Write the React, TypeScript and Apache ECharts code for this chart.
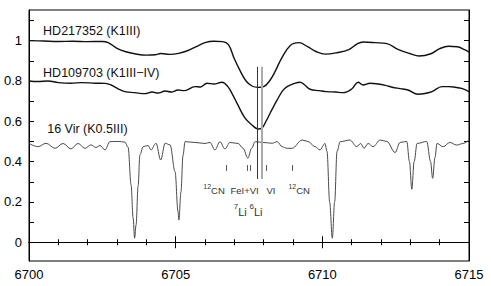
import React, { useEffect, useRef } from "react";
import * as echarts from "echarts";

// HD217352 (K1III)
const wlTop = [6700.0, 6700.5, 6701.0, 6701.5, 6702.0, 6702.5, 6702.7, 6703.0, 6703.3, 6703.6, 6704.0, 6704.3, 6704.5, 6704.8, 6705.1, 6705.4, 6705.7, 6706.0, 6706.3, 6706.6, 6706.8, 6707.0, 6707.2, 6707.4, 6707.6, 6707.8, 6708.0, 6708.2, 6708.4, 6708.6, 6708.9, 6709.2, 6709.5, 6709.8, 6710.1, 6710.5, 6710.9, 6711.2, 6711.4, 6711.8, 6712.2, 6712.6, 6713.0, 6713.3, 6713.7, 6714.0, 6714.3, 6714.6, 6714.85, 6715.0];
const fluxTop = [1.0, 0.998, 0.996, 0.997, 0.995, 0.996, 0.99, 0.962, 0.945, 0.935, 0.928, 0.93, 0.936, 0.932, 0.937, 0.95, 0.97, 0.99, 0.997, 0.995, 0.98, 0.91, 0.85, 0.8, 0.775, 0.768, 0.772, 0.8, 0.85, 0.91, 0.975, 0.99, 0.97, 0.945, 0.933, 0.94, 0.955, 0.985, 0.993, 0.99, 0.985, 0.955, 0.935, 0.924, 0.935, 0.96, 0.972, 0.97, 0.955, 0.943];

// HD109703 (K1III-IV)
const wlMid = [6700.0, 6700.3, 6700.65, 6701.0, 6701.43, 6701.8, 6702.25, 6702.6, 6702.8, 6703.05, 6703.27, 6703.6, 6703.95, 6704.2, 6704.4, 6704.64, 6704.85, 6705.08, 6705.3, 6705.66, 6705.85, 6706.07, 6706.3, 6706.58, 6706.78, 6706.95, 6707.09, 6707.36, 6707.6, 6707.81, 6707.94, 6708.08, 6708.22, 6708.46, 6708.65, 6708.8, 6709.0, 6709.24, 6709.4, 6709.58, 6709.9, 6710.16, 6710.45, 6710.71, 6711.0, 6711.22, 6711.39, 6711.63, 6711.9, 6712.15, 6712.38, 6712.65, 6712.92, 6713.26, 6713.5, 6713.74, 6714.08, 6714.3, 6714.52, 6714.75, 6715.0];
const fluxMid = [0.8, 0.797, 0.8, 0.792, 0.789, 0.792, 0.789, 0.788, 0.78, 0.76, 0.747, 0.742, 0.737, 0.745, 0.74, 0.75, 0.745, 0.755, 0.752, 0.772, 0.77, 0.789, 0.785, 0.794, 0.772, 0.73, 0.69, 0.617, 0.582, 0.562, 0.566, 0.6, 0.64, 0.706, 0.752, 0.772, 0.785, 0.794, 0.78, 0.759, 0.752, 0.747, 0.745, 0.742, 0.76, 0.794, 0.78, 0.789, 0.785, 0.778, 0.769, 0.762, 0.755, 0.734, 0.738, 0.747, 0.772, 0.772, 0.769, 0.763, 0.747];

// 16 Vir (K0.5III)
const wlVir = [6700.0, 6700.31, 6700.58, 6700.89, 6701.16, 6701.43, 6701.67, 6701.91, 6702.11, 6702.28, 6702.42, 6702.59, 6702.76, 6703.03, 6703.27, 6703.38, 6703.48, 6703.55, 6703.6, 6703.65, 6703.72, 6703.78, 6703.89, 6704.06, 6704.16, 6704.33, 6704.49, 6704.64, 6704.81, 6704.98, 6705.08, 6705.11, 6705.18, 6705.25, 6705.32, 6705.66, 6706.0, 6706.17, 6706.34, 6706.51, 6706.68, 6706.85, 6707.13, 6707.3, 6707.46, 6707.59, 6707.71, 6707.98, 6708.29, 6708.46, 6708.63, 6708.8, 6708.97, 6709.31, 6709.51, 6709.75, 6709.92, 6710.09, 6710.16, 6710.25, 6710.34, 6710.42, 6710.5, 6710.61, 6710.94, 6711.17, 6711.31, 6711.42, 6711.56, 6711.73, 6711.97, 6712.2, 6712.48, 6712.65, 6712.88, 6712.97, 6713.05, 6713.13, 6713.23, 6713.56, 6713.69, 6713.76, 6713.84, 6713.91, 6714.12, 6714.35, 6714.58, 6714.8, 6715.0];
const fluxVir = [0.49, 0.474, 0.491, 0.466, 0.49, 0.463, 0.49, 0.466, 0.483, 0.47, 0.48, 0.458, 0.499, 0.5, 0.497, 0.47, 0.284, 0.12, 0.02, 0.086, 0.28, 0.433, 0.474, 0.48, 0.458, 0.491, 0.408, 0.491, 0.483, 0.35, 0.152, 0.11, 0.25, 0.43, 0.499, 0.495, 0.49, 0.495, 0.458, 0.499, 0.463, 0.495, 0.49, 0.466, 0.417, 0.466, 0.499, 0.495, 0.491, 0.499, 0.474, 0.466, 0.466, 0.507, 0.5, 0.474, 0.458, 0.49, 0.45, 0.2, 0.02, 0.2, 0.45, 0.499, 0.507, 0.474, 0.49, 0.466, 0.49, 0.474, 0.507, 0.5, 0.445, 0.495, 0.5, 0.4, 0.263, 0.4, 0.49, 0.5, 0.4, 0.317, 0.42, 0.49, 0.474, 0.495, 0.482, 0.49, 0.507];

// axes
const xMin = 6700;
const xMax = 6715;
const yMin = -0.093;
const yMax = 1.152;
const yLabelValues = [0, 0.2, 0.4, 0.6, 0.8, 1];
const yLabelTexts = ["0", "0.2", "0.4", "0.6", "0.8", "1"];
const yTickValues = [0, 0.1, 0.2, 0.3, 0.4, 0.5, 0.6, 0.7, 0.8, 0.9, 1.0, 1.1];

// Li lines (7Li black, 6Li gray)
const liLineWl = [6707.79, 6707.94];
const liLineTop = 0.87;
const liLineBottom = 0.314;

// small identification marks
const markWl = [6706.74, 6707.43, 6707.54, 6708.1, 6708.96];
const markTop = 0.383;
const markBottom = 0.354;

// annotation labels [text, wavelength, flux]
const starLabels: [string, number, number][] = [
  ["HD217352 (K1III)", 6700.48, 1.048],
  ["HD109703 (K1III\u2212IV)", 6700.48, 0.841],
  ["16 Vir (K0.5III)", 6700.62, 0.562],
];
const lineLabels: [string, number, number][] = [
  ["{s|12}{n|CN}", 6706.31, 0.264],
  ["{n|FeI+VI}", 6707.35, 0.264],
  ["{n|VI}", 6708.25, 0.264],
  ["{s|12}{n|CN}", 6709.21, 0.264],
];
const isoLabels: [string, number, number][] = [
  ["{s|7}{L|Li}", 6707.2, 0.16],
  ["{s|6}{L|Li}", 6707.74, 0.16],
];

const FONT = "'Liberation Sans', Arial, Helvetica, sans-serif";

const zip = (a: number[], b: number[]) => a.map((v, i) => [v, b[i]]);

export default function App() {
  const ref = useRef<HTMLDivElement>(null);
  useEffect(() => {
    document.body.style.margin = "0";
    const chart = echarts.init(ref.current!, null, { renderer: "svg" });
    const axisLine = { show: true, lineStyle: { color: "#000", width: 1 } };
    const xCommon = {
      type: "value",
      min: xMin,
      max: xMax,
      interval: 5,
      splitLine: { show: false },
      axisLine,
      axisTick: { show: true, inside: true, length: 6, lineStyle: { color: "#000" } },
      minorTick: { show: true, splitNumber: 5, length: 3, lineStyle: { color: "#000" } },
    };
    const yCommon = {
      type: "value",
      min: yMin,
      max: yMax,
      splitLine: { show: false },
      axisLine,
      axisTick: {
        show: true,
        inside: true,
        length: 5,
        customValues: yTickValues,
        lineStyle: { color: "#000" },
      },
    };
    chart.setOption({
      animation: false,
      grid: {
        left: 29,
        right: 22,
        top: 10,
        bottom: 25,
        containLabel: false,
        show: true,
        borderColor: "#000",
        borderWidth: 1,
        backgroundColor: "transparent",
      },
      xAxis: [
        {
          ...xCommon,
          position: "bottom",
          axisLabel: {
            color: "#000",
            fontSize: 13,
            fontFamily: FONT,
            margin: 7,
            formatter: (v: number) => String(Math.round(v)),
          },
        },
        { ...xCommon, position: "top", axisLabel: { show: false } },
      ],
      yAxis: [
        {
          ...yCommon,
          position: "left",
          axisLabel: {
            color: "#000",
            fontSize: 13,
            fontFamily: FONT,
            margin: 7,
            customValues: yLabelValues,
            formatter: (v: number) => {
              const i = yLabelValues.findIndex((u) => Math.abs(u - v) < 1e-6);
              return i >= 0 ? yLabelTexts[i] : "";
            },
          },
        },
        { ...yCommon, position: "right", axisLabel: { show: false } },
      ],
      series: [
        {
          type: "line",
          data: zip(wlVir, fluxVir),
          showSymbol: false,
          smooth: 0.35,
          smoothMonotone: "x",
          lineStyle: { color: "#4a4a4a", width: 1 },
          z: 2,
        },
        {
          type: "line",
          data: zip(wlMid, fluxMid),
          showSymbol: false,
          smooth: 0.4,
          lineStyle: { color: "#111", width: 1.4 },
          z: 3,
        },
        {
          type: "line",
          data: zip(wlTop, fluxTop),
          showSymbol: false,
          smooth: 0.4,
          lineStyle: { color: "#111", width: 1.4 },
          z: 3,
          markLine: {
            silent: true,
            symbol: ["none", "none"],
            label: { show: false },
            animation: false,
            data: [
              ...markWl.map((w) => [
                { coord: [w, markTop], lineStyle: { color: "#555", width: 1, type: "solid" } },
                { coord: [w, markBottom] },
              ]),
              [
                { coord: [liLineWl[1], liLineTop], lineStyle: { color: "#aaaaaa", width: 2, type: "solid" } },
                { coord: [liLineWl[1], liLineBottom] },
              ],
              [
                { coord: [liLineWl[0], liLineTop], lineStyle: { color: "#333", width: 1, type: "solid" } },
                { coord: [liLineWl[0], liLineBottom] },
              ],
            ],
          },
        },
      ],
    });

    const px = (w: number, f: number) =>
      chart.convertToPixel({ xAxisIndex: 0, yAxisIndex: 0 }, [w, f]) as number[];
    const graphics: any[] = [];
    starLabels.forEach(([t, w, f]) => {
      const p = px(w, f);
      graphics.push({
        type: "text",
        x: p[0],
        y: p[1],
        style: {
          text: t,
          fill: "#111",
          font: `12.5px ${FONT}`,
          textAlign: "left",
          textVerticalAlign: "middle",
        },
      });
    });
    lineLabels.forEach(([t, w, f]) => {
      const p = px(w, f);
      graphics.push({
        type: "text",
        x: p[0],
        y: p[1],
        style: {
          text: t,
          fill: "#333",
          fontFamily: FONT,
          align: "center",
          verticalAlign: "middle",
          rich: {
            s: { fontSize: 7, lineHeight: 13, verticalAlign: "top", fontFamily: FONT, fill: "#333" },
            n: { fontSize: 9.5, lineHeight: 13, verticalAlign: "bottom", fontFamily: FONT, fill: "#333" },
          },
        },
      });
    });
    isoLabels.forEach(([t, w, f]) => {
      const p = px(w, f);
      graphics.push({
        type: "text",
        x: p[0],
        y: p[1],
        style: {
          text: t,
          fill: "#333",
          fontFamily: FONT,
          align: "center",
          verticalAlign: "middle",
          rich: {
            s: { fontSize: 8, lineHeight: 15, verticalAlign: "top", fontFamily: FONT, fill: "#333" },
            L: { fontSize: 11, lineHeight: 15, verticalAlign: "bottom", fontFamily: FONT, fill: "#333" },
          },
        },
      });
    });
    chart.setOption({ graphic: graphics });

    return () => chart.dispose();
  }, []);
  return <div ref={ref} style={{ width: 491, height: 286 }} />;
}
